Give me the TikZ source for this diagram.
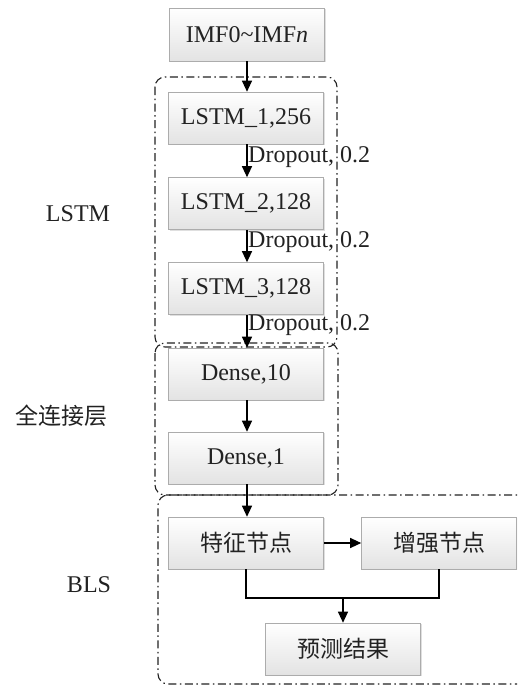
\documentclass[tikz,border=0pt]{standalone}
\usepackage{fontspec}
\setmainfont{Liberation Serif}
\newfontfamily\cjk{Noto Sans CJK SC}
\usetikzlibrary{arrows.meta,shadows}
\definecolor{txt}{HTML}{222222}
\definecolor{dd}{HTML}{222222}
\tikzset{
  blk/.style={draw=gray!65, line width=0.6pt, top color=white, bottom color=gray!22,
    minimum width=155pt, minimum height=52pt, inner sep=0pt, text=txt,
    font=\fontsize{24}{28}\selectfont,
    drop shadow={shadow xshift=1.2pt, shadow yshift=-1.2pt, opacity=0.25, fill=gray}},
  arr/.style={line width=1.1pt, -{Triangle[length=11pt,width=10pt]}},
  ln/.style={line width=1.1pt},
  grp/.style={draw=dd, line width=1.1pt, rounded corners=10pt,
    dash pattern=on 8pt off 3.5pt on 1.5pt off 3.5pt},
  lbl/.style={text=txt, font=\fontsize{24}{28}\selectfont, inner sep=1pt},
}
\begin{document}
\begin{tikzpicture}[x=1pt,y=-1pt]
\useasboundingbox (0,0) rectangle (517,685);
\clip (0,0) rectangle (517,685);
% group frames
\draw[grp] (155,77) rectangle (337,347);
\draw[grp] (155,343) rectangle (338,495);
\draw[grp] (545,495) -- (158,495) -- (158,684) -- (545,684);
% boxes
\node[blk, minimum height=53pt] (imf) at (247,34.5) {IMF0\textasciitilde IMF\textit{n}};
\node[blk] (l1) at (246,118) {LSTM\_1,256};
\node[blk] (l2) at (246,203.5) {LSTM\_2,128};
\node[blk] (l3) at (246,288.5) {LSTM\_3,128};
\node[blk] (d10) at (246,374) {Dense,10};
\node[blk] (d1) at (246,458) {Dense,1};
\node[blk, font=\cjk\fontsize{23}{27}\selectfont] (tz) at (246,543) {特征节点};
\node[blk, font=\cjk\fontsize{23}{27}\selectfont] (zq) at (439,543) {增强节点};
\node[blk, font=\cjk\fontsize{23}{27}\selectfont] (yc) at (343,649) {预测结果};
% side labels
\node[lbl] (tl) at (78,214) {LSTM};
\node[lbl, font=\cjk\fontsize{23}{27}\selectfont] (tq) at (62,416) {全连接层};
\node[lbl] (tb) at (89,585) {BLS};
% connectors
\draw[arr] (imf.south -| 247,0) -- (l1.north -| 247,0);
\draw[arr] (l1.south -| 247,0) -- (l2.north -| 247,0);
\draw[arr] (l2.south -| 247,0) -- (l3.north -| 247,0);
\draw[arr] (l3.south -| 247,0) -- (d10.north -| 247,0);
\draw[arr] (d10.south -| 247,0) -- (d1.north -| 247,0);
\draw[arr] (d1.south -| 247,0) -- (tz.north -| 247,0);
\draw[arr] (tz.east) -- (zq.west);
\coordinate (m) at (343,598);
\draw[ln] (tz.south) |- (m) -| (zq.south);
\draw[arr] (m) -- (yc.north);
% dropout labels
\node[lbl, anchor=west] (dp1) at (247,157) {Dropout, 0.2};
\node[lbl, anchor=west] (dp2) at (247,242) {Dropout, 0.2};
\node[lbl, anchor=west] (dp3) at (247,325) {Dropout, 0.2};
\end{tikzpicture}
\end{document}
